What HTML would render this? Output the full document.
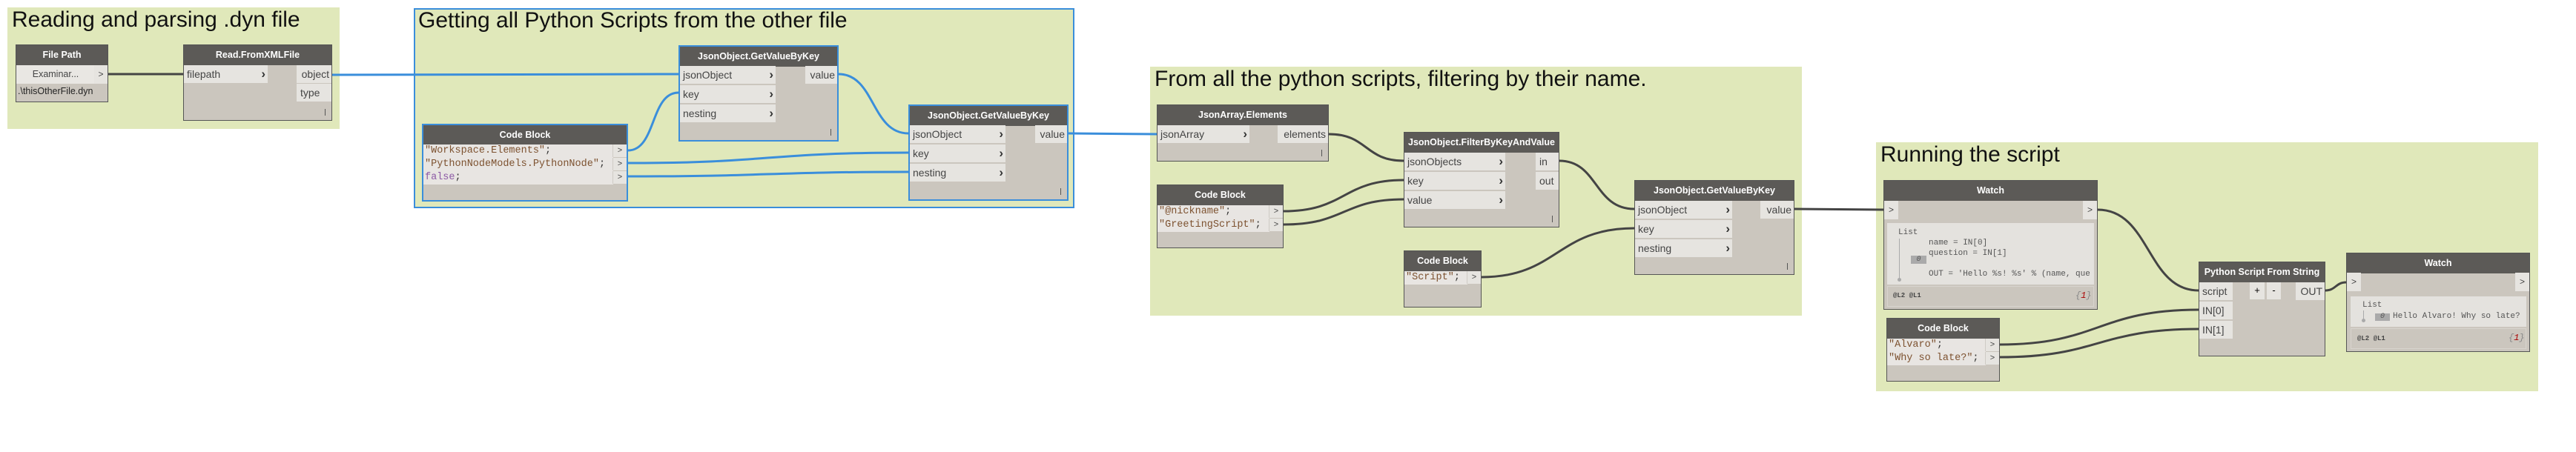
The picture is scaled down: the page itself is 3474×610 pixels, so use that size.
<!DOCTYPE html>
<html><head><meta charset="utf-8">
<style>
*{margin:0;padding:0;box-sizing:border-box}
body{width:3474px;height:610px;background:#fff;position:relative;overflow:hidden;font-family:"Liberation Sans",sans-serif}
.g{position:absolute;background:#e0e8ba}
.gt{position:absolute;left:6px;top:2px;font-size:30px;line-height:30px;color:#111;white-space:nowrap}
.n{position:absolute;background:#cbc6be;border:1px solid #555;z-index:3}
.n.sel{border:2px solid #3a8edb}
.h{position:absolute;left:0;right:0;top:0;height:27px;background:#5c5a57;color:#fff;font-weight:bold;font-size:12.5px;line-height:27px;text-align:center;white-space:nowrap}
.i{position:absolute;left:0;height:24px;background:#e6e4e0;font-size:14px;line-height:24px;padding-left:4px;color:#444;white-space:nowrap}
.i b{position:absolute;right:3px;top:0;font-size:17px;color:#333}
.o{position:absolute;right:0;height:24px;background:#e6e4e0;font-size:14px;line-height:24px;padding-right:3px;text-align:right;color:#444;white-space:nowrap}
.mk{position:absolute;right:8px;bottom:6px;width:1px;height:9px;background:#555}
.cr{position:absolute;left:0;height:18px;background:#e8e5e2;font-family:"Liberation Mono",monospace;font-size:13.5px;line-height:18px;padding-left:2px;color:#333;white-space:nowrap}
.cp{position:absolute;right:0;width:19px;height:17px;background:#e6e4e0;border-left:1px solid #cfcbc5;font-size:11px;line-height:17px;text-align:center;color:#444}
.s{color:#7d5230}.f{color:#8d5aa6}
.m{font-family:"Liberation Mono",monospace;font-size:11px;color:#555;position:absolute;white-space:nowrap}
svg{position:absolute;left:0;top:0;z-index:2}
</style></head><body>

<div class="g" style="left:10px;top:10px;width:448px;height:164px"><div class="gt">Reading and parsing .dyn file</div></div>
<div class="g" style="left:558px;top:11px;width:891px;height:270px;border:2px solid #3a8edb"><div class="gt" style="left:4px;top:0">Getting all Python Scripts from the other file</div></div>
<div class="g" style="left:1551px;top:90px;width:879px;height:336px"><div class="gt">From all the python scripts, filtering by their name.</div></div>
<div class="g" style="left:2530px;top:192px;width:893px;height:336px"><div class="gt">Running the script</div></div>

<svg width="3474" height="610" fill="none" stroke-width="3">
<g stroke="#3a8edb">
<path d="M448,101 L915,100"/>
<path d="M847,203 C885,203 877,125 915,125"/>
<path d="M847,220 C1040,220 1030,206 1225,206"/>
<path d="M847,238 C1040,238 1030,232 1225,232"/>
<path d="M1131,100 C1180,100 1175,180 1225,180"/>
<path d="M1441,180 L1560,181"/>
</g>
<g stroke="#444">
<path d="M146,100 L247,100"/>
<path d="M1792,181 C1845,181 1840,217 1893,217"/>
<path d="M1731,285 C1815,285 1810,243 1893,243"/>
<path d="M1731,303 C1815,303 1810,269 1893,269"/>
<path d="M2103,217 C2155,217 2150,282 2204,282"/>
<path d="M1998,374 C2100,374 2100,308 2204,308"/>
<path d="M2420,282 L2540,283"/>
<path d="M2829,283 C2900,283 2895,392 2965,392"/>
<path d="M2697,465 C2830,465 2830,418 2965,418"/>
<path d="M2697,482 C2830,482 2830,444 2965,444"/>
<path d="M3136,392 C3150,392 3150,381 3164,381"/>
</g>
</svg>

<!-- File Path -->
<div class="n" style="left:21px;top:60px;width:125px;height:78px">
<div class="h">File Path</div>
<div class="i" style="top:27px;width:106px;height:25px;text-align:center;padding:0;font-size:12.5px;background:#e9e7e3">Examinar...</div>
<div class="o" style="top:27px;width:18px;height:25px;text-align:center;padding:0;font-size:12px">&gt;</div>
<div style="position:absolute;left:2px;top:55px;font-size:12.5px;color:#222">.\thisOtherFile.dyn</div>
</div>

<!-- Read.FromXMLFile -->
<div class="n" style="left:247px;top:60px;width:201px;height:103px">
<div class="h">Read.FromXMLFile</div>
<div class="i" style="top:27px;width:113px">filepath<b>›</b></div>
<div class="o" style="top:27px;width:47px">object</div>
<div class="o" style="top:52px;width:47px;text-align:left;padding-left:5px">type</div>
<div class="mk"></div>
</div>

<!-- Code Block 1 -->
<div class="n sel" style="left:569px;top:167px;width:278px;height:105px">
<div class="h">Code Block</div>
<div class="cr" style="top:26px;width:256px"><span class="s">"Workspace.Elements"</span>;</div>
<div class="cp" style="top:26px">&gt;</div>
<div class="cr" style="top:44px;width:256px"><span class="s">"PythonNodeModels.PythonNode"</span>;</div>
<div class="cp" style="top:44px">&gt;</div>
<div class="cr" style="top:62px;width:256px"><span class="f">false</span>;</div>
<div class="cp" style="top:62px">&gt;</div>
</div>

<!-- GV1 -->
<div class="n sel" style="left:915px;top:61px;width:216px;height:130px">
<div class="h">JsonObject.GetValueByKey</div>
<div class="i" style="top:26px;width:129px">jsonObject<b>›</b></div>
<div class="i" style="top:52px;width:129px">key<b>›</b></div>
<div class="i" style="top:78px;width:129px">nesting<b>›</b></div>
<div class="o" style="top:26px;width:43px">value</div>
<div class="mk"></div>
</div>

<!-- GV2 -->
<div class="n sel" style="left:1225px;top:141px;width:216px;height:130px">
<div class="h">JsonObject.GetValueByKey</div>
<div class="i" style="top:26px;width:129px">jsonObject<b>›</b></div>
<div class="i" style="top:52px;width:129px">key<b>›</b></div>
<div class="i" style="top:78px;width:129px">nesting<b>›</b></div>
<div class="o" style="top:26px;width:43px">value</div>
<div class="mk"></div>
</div>

<!-- JsonArray.Elements -->
<div class="n" style="left:1560px;top:141px;width:232px;height:77px">
<div class="h">JsonArray.Elements</div>
<div class="i" style="top:27px;width:124px">jsonArray<b>›</b></div>
<div class="o" style="top:27px;width:68px">elements</div>
<div class="mk"></div>
</div>

<!-- Code Block 2 -->
<div class="n" style="left:1560px;top:249px;width:171px;height:86px">
<div class="h">Code Block</div>
<div class="cr" style="top:27px;width:151px"><span class="s">"@nickname"</span>;</div>
<div class="cp" style="top:27px">&gt;</div>
<div class="cr" style="top:45px;width:151px"><span class="s">"GreetingScript"</span>;</div>
<div class="cp" style="top:45px">&gt;</div>
</div>

<!-- Filter -->
<div class="n" style="left:1893px;top:178px;width:210px;height:129px">
<div class="h">JsonObject.FilterByKeyAndValue</div>
<div class="i" style="top:27px;width:136px">jsonObjects<b>›</b></div>
<div class="i" style="top:53px;width:136px">key<b>›</b></div>
<div class="i" style="top:79px;width:136px">value<b>›</b></div>
<div class="o" style="top:27px;width:31px;text-align:left;padding-left:5px">in</div>
<div class="o" style="top:53px;width:31px;text-align:left;padding-left:5px">out</div>
<div class="mk"></div>
</div>

<!-- GV3 -->
<div class="n" style="left:2204px;top:243px;width:216px;height:128px">
<div class="h">JsonObject.GetValueByKey</div>
<div class="i" style="top:27px;width:131px">jsonObject<b>›</b></div>
<div class="i" style="top:53px;width:131px">key<b>›</b></div>
<div class="i" style="top:79px;width:131px">nesting<b>›</b></div>
<div class="o" style="top:27px;width:45px">value</div>
<div class="mk"></div>
</div>

<!-- Code Block 3 -->
<div class="n" style="left:1893px;top:338px;width:105px;height:77px">
<div class="h">Code Block</div>
<div class="cr" style="top:27px;width:85px"><span class="s">"Script"</span>;</div>
<div class="cp" style="top:27px">&gt;</div>
</div>

<!-- Watch 1 -->
<div class="n" style="left:2540px;top:243px;width:289px;height:175px">
<div class="h">Watch</div>
<div class="i" style="top:27px;width:19px;height:25px;padding:0;text-align:center;font-size:12px">&gt;</div>
<div class="o" style="top:27px;width:19px;height:25px;padding:0;text-align:center;font-size:12px">&gt;</div>
<div style="position:absolute;left:4px;top:57px;width:279px;height:83px;background:#e4e2de"></div>
<div class="m" style="left:19px;top:64px">List</div>
<div style="position:absolute;left:20px;top:78px;width:1px;height:55px;background:#aaa"></div>
<div style="position:absolute;left:18px;top:131px;width:5px;height:5px;border-radius:3px;background:#aaa"></div>
<div class="m" style="left:60px;top:78px">name = IN[0]</div>
<div class="m" style="left:60px;top:92px">question = IN[1]</div>
<div style="position:absolute;left:36px;top:101px;width:21px;height:11px;background:#aaa;font-family:'Liberation Mono',monospace;font-size:10px;line-height:11px;text-align:center;color:#555;font-style:italic">0</div>
<div class="m" style="left:60px;top:120px">OUT = 'Hello %s! %s' % (name, que</div>
<div style="position:absolute;left:4px;top:142px;width:279px;height:28px;border:1px solid #d8d4ce"></div>
<div class="m" style="left:12px;top:150px;font-size:9px;font-weight:bold;color:#444">@L2 @L1</div>
<div class="m" style="left:258px;top:148px;font-size:12px;font-style:italic;color:#888">{<span style="color:#a00">1</span>}</div>
</div>

<!-- Code Block 4 -->
<div class="n" style="left:2544px;top:429px;width:153px;height:86px">
<div class="h">Code Block</div>
<div class="cr" style="top:27px;width:133px"><span class="s">"Alvaro"</span>;</div>
<div class="cp" style="top:27px">&gt;</div>
<div class="cr" style="top:45px;width:133px"><span class="s">"Why so late?"</span>;</div>
<div class="cp" style="top:45px">&gt;</div>
</div>

<!-- Python Script From String -->
<div class="n" style="left:2965px;top:353px;width:171px;height:128px">
<div class="h">Python Script From String</div>
<div class="i" style="top:27px;width:45px">script</div>
<div class="i" style="top:53px;width:45px">IN[0]</div>
<div class="i" style="top:79px;width:45px">IN[1]</div>
<div style="position:absolute;left:68px;top:27px;width:20px;height:23px;background:#e6e4e0;text-align:center;font-size:13px;line-height:22px">+</div>
<div style="position:absolute;left:91px;top:27px;width:19px;height:23px;background:#e6e4e0;text-align:center;font-size:13px;line-height:22px">-</div>
<div class="o" style="top:27px;width:39px">OUT</div>
</div>

<!-- Watch 2 -->
<div class="n" style="left:3164px;top:341px;width:248px;height:134px">
<div class="h">Watch</div>
<div class="i" style="top:26px;width:19px;height:25px;padding:0;text-align:center;font-size:12px">&gt;</div>
<div class="o" style="top:26px;width:19px;height:25px;padding:0;text-align:center;font-size:12px">&gt;</div>
<div style="position:absolute;left:5px;top:58px;width:237px;height:41px;background:#e4e2de"></div>
<div class="m" style="left:21px;top:64px">List</div>
<div style="position:absolute;left:22px;top:77px;width:1px;height:13px;background:#aaa"></div>
<div style="position:absolute;left:20px;top:88px;width:5px;height:5px;border-radius:3px;background:#aaa"></div>
<div style="position:absolute;left:38px;top:81px;width:20px;height:10px;background:#aaa;font-family:'Liberation Mono',monospace;font-size:10px;line-height:10px;text-align:center;color:#555;font-style:italic">0</div>
<div class="m" style="left:62px;top:79px">Hello Alvaro! Why so late?</div>
<div style="position:absolute;left:5px;top:101px;width:237px;height:28px;border:1px solid #d8d4ce"></div>
<div class="m" style="left:14px;top:110px;font-size:9px;font-weight:bold;color:#444">@L2 @L1</div>
<div class="m" style="left:218px;top:107px;font-size:12px;font-style:italic;color:#888">{<span style="color:#a00">1</span>}</div>
</div>

</body></html>
